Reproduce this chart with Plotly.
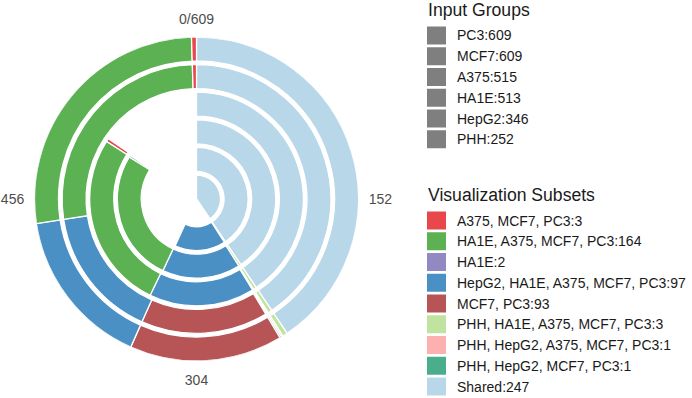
import plotly.graph_objects as go

# ---- data ----
groups = ["PC3", "MCF7", "A375", "HA1E", "HepG2", "PHH"]          # outer -> inner ring
group_sizes = [609, 609, 515, 513, 346, 252]

subset_names = [
    "A375, MCF7, PC3",
    "HA1E, A375, MCF7, PC3",
    "HA1E",
    "HepG2, HA1E, A375, MCF7, PC3",
    "MCF7, PC3",
    "PHH, HA1E, A375, MCF7, PC3",
    "PHH, HepG2, A375, MCF7, PC3",
    "PHH, HepG2, MCF7, PC3",
    "Shared",
]
subset_counts = [3, 164, 2, 97, 93, 3, 1, 1, 247]
subset_members = [
    ["A375", "MCF7", "PC3"],
    ["HA1E", "A375", "MCF7", "PC3"],
    ["HA1E"],
    ["HepG2", "HA1E", "A375", "MCF7", "PC3"],
    ["MCF7", "PC3"],
    ["PHH", "HA1E", "A375", "MCF7", "PC3"],
    ["PHH", "HepG2", "A375", "MCF7", "PC3"],
    ["PHH", "HepG2", "MCF7", "PC3"],
    ["PC3", "MCF7", "A375", "HA1E", "HepG2", "PHH"],
]
subset_colors = ["#e8474b", "#5cb152", "#9289c3", "#4b90c5", "#b75455",
                 "#c0e3a0", "#fcb1b0", "#4aad8c", "#b8d7e9"]

# stacking order around each ring (clockwise from top)
stack_order = ["Shared", "PHH, HA1E, A375, MCF7, PC3", "PHH, HepG2, A375, MCF7, PC3",
               "PHH, HepG2, MCF7, PC3", "MCF7, PC3", "HepG2, HA1E, A375, MCF7, PC3",
               "HA1E, A375, MCF7, PC3", "A375, MCF7, PC3", "HA1E"]

total = max(group_sizes)
ticks_vals = [0, total / 4, total / 2, 3 * total / 4]
ticks_text = ["0/%d" % total] + [str(int(v)) for v in ticks_vals[1:]]

W, H = 692, 398
FONT = "Liberation Sans, Arial, sans-serif"
gap = 0.13
n = len(groups)

fig = go.Figure()

deg = 360.0 / total
for name in stack_order:
    k = subset_names.index(name)
    thetas, widths, bases, rs = [], [], [], []
    for gi, g in enumerate(groups):
        ring = n - 1 - gi  # 0 innermost
        start = 0
        for prev in stack_order[:stack_order.index(name)]:
            pk = subset_names.index(prev)
            if g in subset_members[pk]:
                start += subset_counts[pk]
        if g in subset_members[k]:
            c = subset_counts[k]
            thetas.append((start + c / 2) * deg)
            widths.append(c * deg)
            bases.append(ring)
            rs.append(1 - gap)
    fig.add_trace(go.Barpolar(
        theta=thetas, width=widths, base=bases, r=rs,
        marker=dict(color=subset_colors[k], line=dict(color="white", width=1.3)),
        name=name, showlegend=False, hoverinfo="name",
    ))

cx, cy, R = 196.5, 199.0, 162.0
fig.update_layout(
    width=W, height=H,
    margin=dict(l=0, r=0, t=0, b=0),
    paper_bgcolor="white",
    font=dict(family=FONT),
    barmode="overlay",
    polar=dict(
        domain=dict(x=[(cx - R) / W, (cx + R) / W], y=[1 - (cy + R) / H, 1 - (cy - R) / H]),
        bgcolor="white",
        hole=0,
        radialaxis=dict(visible=False, range=[0, n - gap]),
        angularaxis=dict(
            rotation=90, direction="clockwise",
            showgrid=False, showline=False,
            ticks="outside", ticklen=7, tickcolor="rgba(0,0,0,0)",
            tickvals=[v * deg for v in ticks_vals],
            ticktext=ticks_text,
            tickfont=dict(size=14, color="#4d4d4d", family=FONT),
        ),
    ),
)

shapes, annos = [], []

def px_x(x):
    return x / W

def px_y(y):
    return 1 - y / H

def add_legend(title, title_y, labels, colors, first_y, step=20.75):
    annos.append(dict(x=px_x(426), y=px_y(title_y), xref="paper", yref="paper",
                      text=title, showarrow=False, xanchor="left", yanchor="middle",
                      font=dict(size=17.6, color="#1a1a1a", family=FONT)))
    for i, (lab, col) in enumerate(zip(labels, colors)):
        yc = first_y + i * step
        shapes.append(dict(type="rect", xref="paper", yref="paper",
                           x0=px_x(427), x1=px_x(446), y0=px_y(yc - 9), y1=px_y(yc + 9),
                           fillcolor=col, line=dict(width=0)))
        annos.append(dict(x=px_x(455), y=px_y(yc), xref="paper", yref="paper",
                          text=lab, showarrow=False, xanchor="left", yanchor="middle",
                          font=dict(size=14, color="#1a1a1a", family=FONT)))

add_legend("Input Groups", 10, ["%s:%d" % (g, s) for g, s in zip(groups, group_sizes)],
           ["#7f7f7f"] * len(groups), 35.5)
add_legend("Visualization Subsets", 195,
           ["%s:%d" % (s, c) for s, c in zip(subset_names, subset_counts)],
           subset_colors, 220.5)

fig.update_layout(shapes=shapes, annotations=annos)
fig.write_html("out.html", config={"displayModeBar": False},
               post_script="document.body.style.margin='0';document.body.style.padding='0';")
